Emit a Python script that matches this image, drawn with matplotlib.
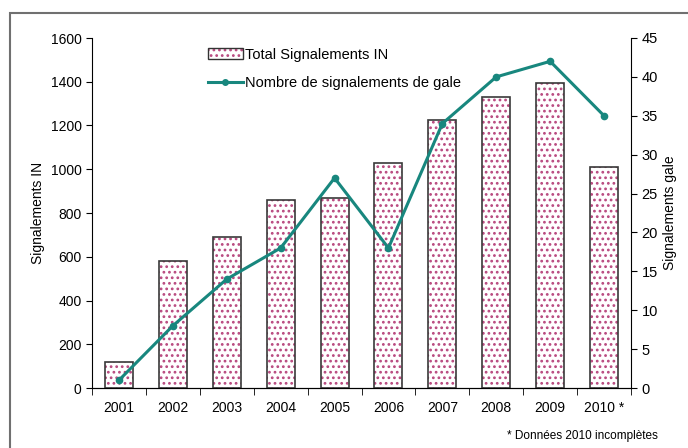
import matplotlib.pyplot as plt
from matplotlib.patches import Rectangle
from matplotlib.lines import Line2D
from matplotlib.patches import Patch
import numpy as np

plt.rcParams['font.family'] = ['Liberation Sans', 'DejaVu Sans']
plt.rcParams['font.size'] = 10
plt.rcParams['hatch.linewidth'] = 1.2

years = ["2001", "2002", "2003", "2004", "2005", "2006", "2007", "2008", "2009", "2010 *"]
total_in = [120, 580, 690, 860, 870, 1030, 1225, 1330, 1395, 1010]
gale = [1, 8, 14, 18, 27, 18, 34, 40, 42, 35]

dot_color = "#b8487e"
line_color = "#18877e"

fig = plt.figure(figsize=(6.88, 4.48), dpi=100)
# cadre gris autour du graphique
fig.patches.append(Rectangle((10 / 688, -0.05), 1.1, 1 - 13 / 448 + 0.05,
                             transform=fig.transFigure, fill=False,
                             edgecolor="#707070", linewidth=1.5))

ax = fig.add_axes([92 / 688, 60 / 448, 539 / 688, 350 / 448])
x = np.arange(len(years))

# points roses puis contour noir
ax.bar(x, total_in, width=0.52, color="white", edgecolor=dot_color,
       hatch="...", linewidth=0, zorder=2)
ax.bar(x, total_in, width=0.52, fill=False, edgecolor="#3a3a3a",
       linewidth=1.2, zorder=3)

ax.set_xlim(-0.5, len(years) - 0.5)
ax.set_ylim(0, 1600)
ax.set_yticks(range(0, 1601, 200))
ax.set_xticks(x)
ax.set_xticklabels(years)
ax.set_xticks(np.arange(-0.5, len(years), 1), minor=True)
ax.tick_params(axis="x", which="major", length=0, pad=9, labelsize=10)
ax.tick_params(axis="x", which="minor", length=5, direction="out")
ax.tick_params(axis="y", length=4, direction="out", labelsize=10)
ax.set_ylabel("Signalements IN", fontsize=10)
ax.spines["top"].set_visible(False)
ax.spines["right"].set_visible(False)

ax2 = ax.twinx()
ax2.plot(x, gale, color=line_color, linewidth=2.2, marker="o",
         markersize=4.5, zorder=4)
ax2.set_ylim(0, 45)
ax2.set_yticks(range(0, 46, 5))
ax2.tick_params(axis="y", length=4, direction="out", labelsize=10.5)
ax2.set_ylabel("Signalements gale", fontsize=10)
ax2.spines["top"].set_visible(False)
ax2.spines["left"].set_visible(False)

bar_handle = (Patch(facecolor="white", edgecolor=dot_color, hatch="...", linewidth=0),
              Patch(fill=False, edgecolor="#333333", linewidth=1.0))
handles = [bar_handle,
           Line2D([], [], color=line_color, linewidth=2.2, marker="o", markersize=4)]
leg = ax2.legend(handles, ["Total Signalements IN", "Nombre de signalements de gale"],
                 loc="upper left", bbox_to_anchor=(0.19, 1.01), frameon=False,
                 fontsize=10.5, handlelength=2.4, labelspacing=1.0, handletextpad=0.2)

fig.text(658 / 688, 1 - 436 / 448, "* Données 2010 incomplètes", ha="right",
         va="center", fontsize=8.5)

fig.savefig("out.png", dpi=100)
